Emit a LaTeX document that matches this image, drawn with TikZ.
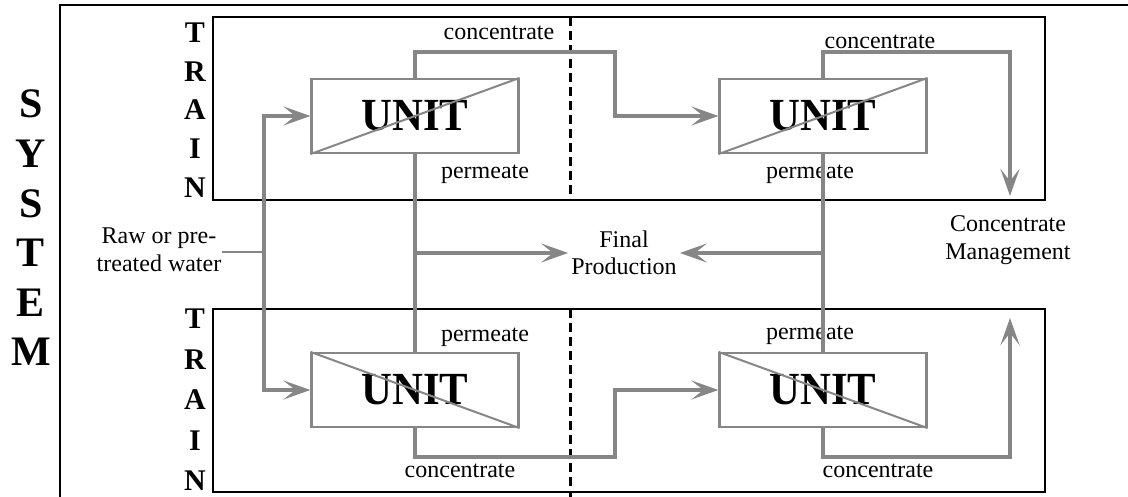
\documentclass[tikz,border=0pt]{standalone}
\usepackage{fontspec}
\setmainfont{Liberation Serif}
\usetikzlibrary{arrows.meta,positioning}

\definecolor{flowgray}{RGB}{134,134,134}
\newcommand{\lblfont}{\fontsize{24}{27.5}\selectfont}
\newcommand{\unitfont}{\fontsize{46}{46}\selectfont\bfseries}
\newcommand{\sysfont}{\fontsize{42}{49.6}\selectfont\bfseries}
\newcommand{\trainfont}{\fontsize{30}{38.6}\selectfont\bfseries}
\newcommand{\trainfontb}{\fontsize{30}{40.5}\selectfont\bfseries}

\tikzset{
  flow/.style={draw=flowgray, line width=3.4pt},
  flowarr/.style={flow, -{Stealth[length=27pt,width=19pt,inset=12pt]}},
  unitbox/.style={draw=flowgray, line width=2.2pt, minimum width=207pt,
    minimum height=74pt, inner sep=0pt, font=\unitfont},
  trainbox/.style={draw=black, line width=2.4pt},
  lbl/.style={font=\lblfont, inner sep=1pt},
  vlbl/.style={align=center, inner sep=0pt},
}

\begin{document}
\begin{tikzpicture}[x=1pt,y=-1pt]
    \useasboundingbox (0,0) rectangle (1128,497);

    % system and trains
    \draw[line width=2pt] (60,497) -- (60,5) -- (1128,5);
    \draw[trainbox] (213,17) rectangle (1045,200);
    \draw[trainbox] (213,309) rectangle (1045,492);
    \draw[line width=3pt, dash pattern=on 9pt off 5pt] (570,17) -- (570,200)
        (570,309) -- (570,497);

    \node[vlbl, font=\sysfont] (sys) at (31,228) {S\\Y\\S\\T\\E\\M};
    \node[vlbl, font=\trainfont] (tr1) at (195,110) {T\\R\\A\\I\\N};
    \node[vlbl, font=\trainfontb] (tr2) at (195,400) {T\\R\\A\\I\\N};

    % units
    \node[unitbox] (u11) at (415,116) {\scalebox{0.93}[1]{UNIT}};
    \node[unitbox] (u12) at (823,116) {\scalebox{0.93}[1]{UNIT}};
    \node[unitbox] (u21) at (415,390) {\scalebox{0.93}[1]{UNIT}};
    \node[unitbox] (u22) at (823,390) {\scalebox{0.93}[1]{UNIT}};
    \draw[flowgray, line width=2pt] (u11.south west) -- (u11.north east);
    \draw[flowgray, line width=2pt] (u12.south west) -- (u12.north east);
    \draw[flowgray, line width=2pt] (u21.north west) -- (u21.south east);
    \draw[flowgray, line width=2pt] (u22.north west) -- (u22.south east);

    % labels
    \node[lbl] (c11) at (499,33) {concentrate};
    \node[lbl] (c12) at (880,42) {concentrate};
    \node[lbl] (p11) at (485,174) {permeate};
    \node[lbl] (p12) at (810,174) {permeate};
    \node[lbl] (p21) at (485,337) {permeate};
    \node[lbl] (p22) at (810,335) {permeate};
    \node[lbl] (c21) at (460,471) {concentrate};
    \node[lbl] (c22) at (878,471) {concentrate};
    \node[lbl, align=center] (raw) at (159,250) {Raw or pre-\\treated water};
    \node[lbl, align=center, inner sep=3pt] (fin) at (624,253) {Final\\Production};
    \node[lbl, align=center] (cm) at (1008,240) {Concentrate\\Management};

    % feed
    \coordinate (inl) at (264,252);
    \draw[flowgray, line width=1.6pt] (raw.east |- inl) -- (inl);
    \draw[flowarr] (inl) |- (u11.west);
    \draw[flowarr] (inl) |- (u21.west);

    % concentrate
    \coordinate (k11) at (615,52);
    \coordinate (k12) at (1010,52);
    \coordinate (e12) at (1010,196);
    \coordinate (k21) at (615,457);
    \coordinate (k22) at (1010,457);
    \coordinate (e22) at (1010,318);
    \draw[flowarr] (u11.north) |- (k11) |- (u12.west);
    \draw[flowarr] (u12.north) |- (k12) -- (e12);
    \draw[flowarr] (u21.south) |- (k21) |- (u22.west);
    \draw[flowarr] (u22.south) |- (k22) -- (e22);

    % permeate
    \draw[flow] (u11.south) -- (u21.north);
    \draw[flow] (u12.south) -- (u22.north);
    \draw[flowarr] (u11.south |- fin) -- (fin.west);
    \draw[flowarr] (u12.south |- fin) -- (fin.east);
\end{tikzpicture}
\end{document}
